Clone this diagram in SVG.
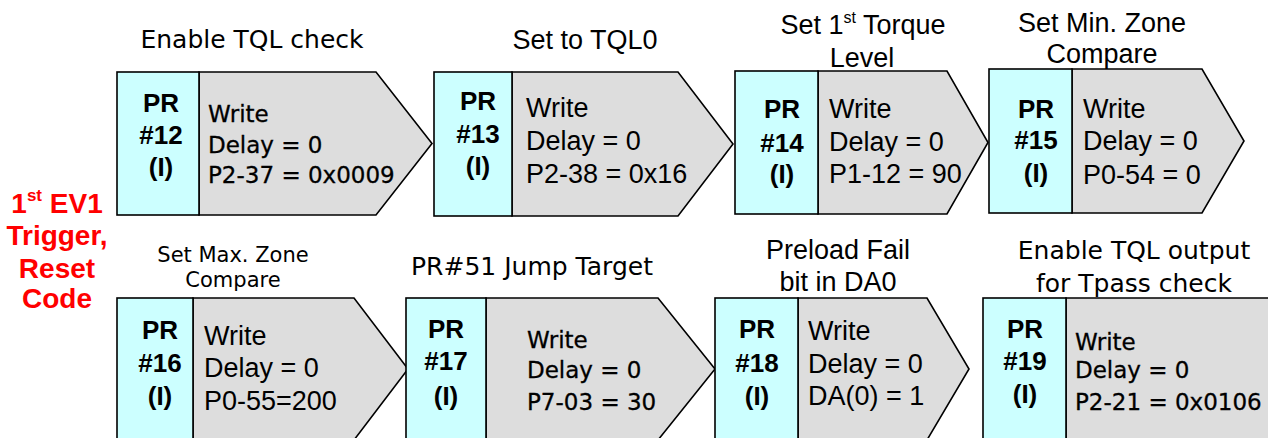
<svg xmlns="http://www.w3.org/2000/svg" width="1268" height="438" viewBox="0 0 1268 438">
<style>
.cy{fill:#CCFFFF;stroke:#000;stroke-width:1.6}
.gr{fill:#DDDDDD;stroke:#000;stroke-width:1.6}
.pr{font-family:"Liberation Sans",Arial,sans-serif;font-weight:bold;font-size:26px;text-anchor:middle;fill:#000}
.ta{font-family:"Liberation Sans",Arial,sans-serif;font-size:27px;fill:#000}
.td{font-family:"DejaVu Sans",Verdana,sans-serif;font-size:23px;fill:#000;stroke:#000;stroke-width:0.3}
.hd{font-family:"DejaVu Sans",Verdana,sans-serif;font-size:25px;text-anchor:middle;fill:#000}
.hs{font-family:"DejaVu Sans",Verdana,sans-serif;font-size:21px;text-anchor:middle;fill:#000}
.ha{font-family:"Liberation Sans",Arial,sans-serif;font-size:27px;text-anchor:middle;fill:#000}
.red{font-family:"Liberation Sans",Arial,sans-serif;font-weight:bold;font-size:28px;text-anchor:middle;fill:#FF0000}
</style>
<rect width="1268" height="438" fill="#fff"/>

<g id="label-trigger">
<text class="red" x="57" y="213">1<tspan font-size="17" dy="-12">st</tspan><tspan dy="12"> EV1</tspan></text>
<text class="red" x="57" y="245">Trigger,</text>
<text class="red" x="57" y="278">Reset</text>
<text class="red" x="57" y="308">Code</text>
</g>

<g id="pr12">
<text class="hd" x="252" y="48">Enable TQL check</text>
<polygon class="gr" points="199,72 376,72 432,143.5 376,215 199,215"/>
<rect class="cy" x="117" y="72" width="82" height="143"/>
<text class="pr" x="161" y="112">PR</text>
<text class="pr" x="161" y="144">#12</text>
<text class="pr" x="161" y="176">(I)</text>
<text class="td" x="208" y="122">Write</text>
<text class="td" x="208" y="153">Delay = 0</text>
<text class="td" x="208" y="183">P2-37 = 0x0009</text>
</g>

<g id="pr13">
<text class="ha" x="585" y="49">Set to TQL0</text>
<polygon class="gr" points="512,72 678,72 733,144 678,216 512,216"/>
<rect class="cy" x="434" y="72" width="78" height="144"/>
<text class="pr" x="478" y="110">PR</text>
<text class="pr" x="478" y="143">#13</text>
<text class="pr" x="478" y="175">(I)</text>
<text class="ta" x="526" y="117">Write</text>
<text class="ta" x="526" y="150">Delay = 0</text>
<text class="ta" x="526" y="183">P2-38 = 0x16</text>
</g>

<g id="pr14">
<text class="ha" x="863" y="34">Set 1<tspan font-size="16" dy="-11">st</tspan><tspan dy="11"> Torque</tspan></text>
<text class="ha" x="862" y="67">Level</text>
<polygon class="gr" points="818,71 947,71 988,142.5 947,214 818,214"/>
<rect class="cy" x="735" y="71" width="83" height="143"/>
<text class="pr" x="782" y="118">PR</text>
<text class="pr" x="782" y="152">#14</text>
<text class="pr" x="782" y="183">(I)</text>
<text class="ta" x="829" y="118">Write</text>
<text class="ta" x="829" y="151">Delay = 0</text>
<text class="ta" x="829" y="183">P1-12 = 90</text>
</g>

<g id="pr15">
<text class="ha" x="1102" y="32">Set Min. Zone</text>
<text class="ha" x="1102" y="63">Compare</text>
<polygon class="gr" points="1072,69 1202,69 1244,141 1202,213 1072,213"/>
<rect class="cy" x="989" y="69" width="83" height="144"/>
<text class="pr" x="1036" y="118">PR</text>
<text class="pr" x="1036" y="149">#15</text>
<text class="pr" x="1036" y="182">(I)</text>
<text class="ta" x="1083" y="118">Write</text>
<text class="ta" x="1083" y="150">Delay = 0</text>
<text class="ta" x="1083" y="184">P0-54 = 0</text>
</g>

<g id="pr16">
<text class="hs" x="233" y="262">Set Max. Zone</text>
<text class="hs" x="233" y="287">Compare</text>
<polygon class="gr" points="193,298 354,298 408,369 354,440 193,440"/>
<rect class="cy" x="117" y="298" width="76" height="142"/>
<text class="pr" x="160" y="339">PR</text>
<text class="pr" x="160" y="372">#16</text>
<text class="pr" x="160" y="405">(I)</text>
<text class="ta" x="204" y="345">Write</text>
<text class="ta" x="204" y="377">Delay = 0</text>
<text class="ta" x="204" y="410">P0-55=200</text>
</g>

<g id="pr17">
<text class="hd" x="532" y="275">PR#51 Jump Target</text>
<polygon class="gr" points="486,298 658,298 715,369 658,440 486,440"/>
<rect class="cy" x="406" y="298" width="80" height="142"/>
<text class="pr" x="446" y="338">PR</text>
<text class="pr" x="446" y="370">#17</text>
<text class="pr" x="446" y="405">(I)</text>
<text class="td" x="527" y="348">Write</text>
<text class="td" x="527" y="378">Delay = 0</text>
<text class="td" x="527" y="410">P7-03 = 30</text>
</g>

<g id="pr18">
<text class="ha" x="838" y="259">Preload Fail</text>
<text class="ha" x="838" y="291">bit in DA0</text>
<polygon class="gr" points="798,298 927,298 969,369 927,440 798,440"/>
<rect class="cy" x="715" y="298" width="83" height="142"/>
<text class="pr" x="757" y="338">PR</text>
<text class="pr" x="757" y="372">#18</text>
<text class="pr" x="757" y="405">(I)</text>
<text class="ta" x="808" y="340">Write</text>
<text class="ta" x="808" y="373">Delay = 0</text>
<text class="ta" x="808" y="405">DA(0) = 1</text>
</g>

<g id="pr19">
<text class="hd" x="1134" y="259">Enable TQL output</text>
<text class="hd" x="1134" y="292">for Tpass check</text>
<polygon class="gr" points="1066,298 1290,298 1290,440 1066,440"/>
<rect class="cy" x="983" y="298" width="83" height="142"/>
<text class="pr" x="1025" y="338">PR</text>
<text class="pr" x="1025" y="370">#19</text>
<text class="pr" x="1025" y="403">(I)</text>
<text class="td" x="1075" y="350">Write</text>
<text class="td" x="1075" y="378">Delay = 0</text>
<text class="td" x="1075" y="410">P2-21 = 0x0106</text>
</g>
</svg>
